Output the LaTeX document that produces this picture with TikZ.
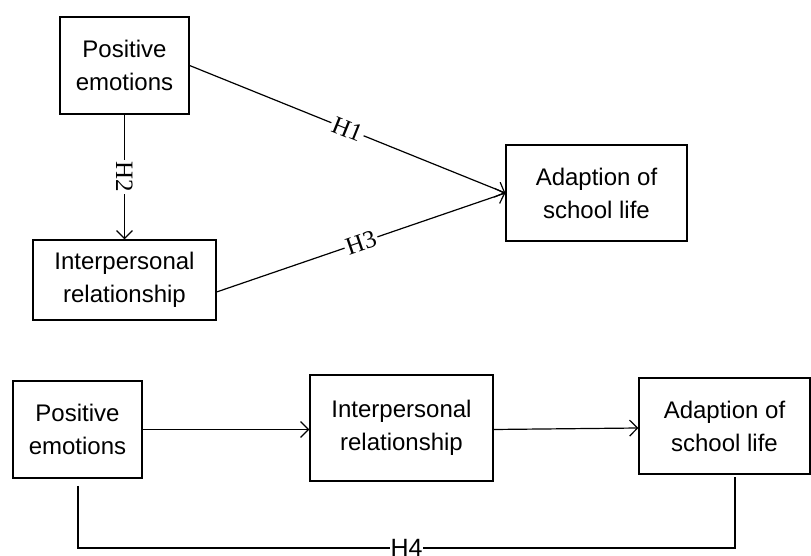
\documentclass[tikz,border=0pt]{standalone}
\usepackage{fontspec}
\setmainfont{Liberation Sans}
\newfontfamily\hypfont{Liberation Serif}
\usetikzlibrary{arrows.meta}
\tikzset{
  varbox/.style={draw, line width=0.6pt, align=center, inner sep=0pt,
    font=\fontsize{12}{16.5}\selectfont},
  hyp/.style={fill=white, inner sep=1pt, font=\hypfont\fontsize{12.5}{12.5}\selectfont},
  hyptext/.style={fill=white, inner sep=0.5pt, font=\fontsize{12.5}{12.5}\selectfont},
  link/.style={line width=0.6pt, -{Straight Barb[length=4pt,width=8pt]}}
}
\begin{document}
\begin{tikzpicture}[x=0.5pt, y=-0.5pt]
      \useasboundingbox (0,0) rectangle (811,556);
      % model with three paths
      \node[varbox, minimum width=64.5pt, minimum height=48.5pt] (pe) at (124.5,65.5) {Positive\\emotions};
      \node[varbox, minimum width=91.5pt, minimum height=40pt] (ir) at (124.5,280) {Interpersonal\\relationship};
      \node[varbox, minimum width=90.5pt, minimum height=48pt] (ad) at (596.5,193) {Adaption of\\school life};
      \draw[link] (pe.south) -- node[hyp, sloped] {H2} (ir.north);
      \draw[link] (pe.east) -- node[hyp, sloped] {H1} (ad.west);
      \draw[link] ([yshift=-6pt]ir.east) -- node[hyp, sloped] {H3} (ad.west);
      % mediation chain
      \node[varbox, minimum width=64.5pt, minimum height=48.5pt] (pe2) at (77.5,429.5) {Positive\\emotions};
      \node[varbox, minimum width=91.5pt, minimum height=53pt] (ir2) at (401.5,428) {Interpersonal\\relationship};
      \node[varbox, minimum width=85.5pt, minimum height=48pt] (ad2) at (724.5,426) {Adaption of\\school life};
      \draw[link] (pe2.east) -- (pe2.east -| ir2.west);
      \draw[link] (ir2.east |- pe2.east) -- (ir2.east -| ad2.west);
      \coordinate (h4s) at (78,486);
      \coordinate (h4e) at (735,477);
      \draw[line width=0.6pt] (h4s) -- (78,548) -- node[hyptext] {H4} (735,548) -- (h4e);
    \end{tikzpicture}
\end{document}
